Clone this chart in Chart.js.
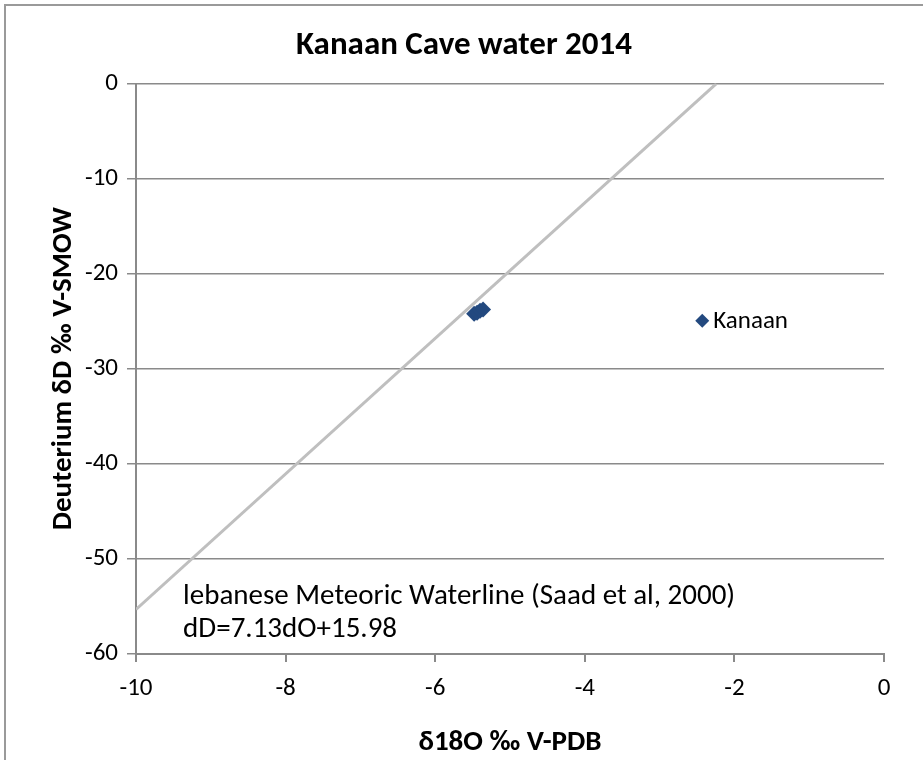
<!DOCTYPE html>
<html>
<head>
<meta charset="utf-8">
<script src="https://cdn.jsdelivr.net/npm/chart.js@4.4.1/dist/chart.umd.min.js"></script>
<style>
  html, body { margin: 0; padding: 0; background: #fff; }
  #wrap { position: relative; width: 923px; height: 760px; }
</style>
</head>
<body>
<div id="wrap"><canvas id="chart" width="923" height="760"></canvas></div>
<script>
// Kanaan samples (δ18O, δD)
const kanaanX = [-5.48, -5.44, -5.40, -5.36]
const kanaanY = [-24.2, -24.1, -23.9, -23.75]

// Lebanese meteoric waterline end points (dD = 7.13 dO + 15.98)
const lineX = [-10, -2.241]
const lineY = [-55.32, 0]

const xTicks = [-10, -8, -6, -4, -2, 0]
const yTicks = [0, -10, -20, -30, -40, -50, -60]

const seriesName = "Kanaan"
const lineNote = ["lebanese Meteoric Waterline (Saad et al, 2000)", "dD=7.13dO+15.98"]

const toPoints = (xs, ys) => xs.map((x, i) => ({ x: x, y: ys[i] }))

const font = "Calibri, Carlito, Lato, 'Open Sans', sans-serif"
const blue = "#23497f"
const grey = "#8a8a8a"

// outer frame, floating legend and the text note on the line
const extras = {
  id: "extras",
  beforeDraw(chart) {
    const c = chart.ctx
    c.save()
    c.fillStyle = "#fff"
    c.fillRect(0, 0, chart.width, chart.height)
    c.strokeStyle = "#9a9a9a"
    c.lineWidth = 2
    c.strokeRect(5, 5, chart.width + 20, chart.height + 20)
    c.restore()
  },
  afterDraw(chart) {
    const c = chart.ctx
    const xs = chart.scales.x
    const ys = chart.scales.y
    c.save()
    // legend
    const lx = xs.getPixelForValue(-2.43)
    const ly = ys.getPixelForValue(-24.95)
    c.fillStyle = blue
    c.beginPath()
    c.moveTo(lx, ly - 7)
    c.lineTo(lx + 7, ly)
    c.lineTo(lx, ly + 7)
    c.lineTo(lx - 7, ly)
    c.closePath()
    c.fill()
    c.fillStyle = "#000"
    c.font = "25px " + font
    c.textBaseline = "middle"
    c.fillText(seriesName, lx + 11, ly + 1)
    // note
    c.font = "29px " + font
    const nx = xs.getPixelForValue(-9.37)
    c.fillText(lineNote[0], nx, ys.getPixelForValue(-54.0))
    c.fillText(lineNote[1], nx, ys.getPixelForValue(-57.5))
    c.restore()
  }
}

new Chart(document.getElementById("chart"), {
  type: "scatter",
  data: {
    datasets: [
      {
        label: "waterline",
        type: "line",
        data: toPoints(lineX, lineY),
        borderColor: "#bfbfbf",
        borderWidth: 3,
        pointRadius: 0,
        fill: false,
        order: 2
      },
      {
        label: seriesName,
        data: toPoints(kanaanX, kanaanY),
        pointStyle: "rectRot",
        pointRadius: 8,
        pointHoverRadius: 8,
        backgroundColor: blue,
        borderColor: blue,
        borderWidth: 0,
        order: 1
      }
    ]
  },
  options: {
    responsive: false,
    animation: false,
    layout: { padding: { top: 12, left: 44, right: 39, bottom: 0 } },
    plugins: {
      legend: { display: false },
      tooltip: { enabled: false },
      title: {
        display: true,
        text: "Kanaan Cave water 2014",
        color: "#000",
        font: { family: font, size: 33, weight: "bold" },
        padding: { top: 14, bottom: 18 }
      }
    },
    scales: {
      x: {
        type: "linear",
        min: -10,
        max: 0,
        afterBuildTicks: (s) => { s.ticks = xTicks.map(v => ({ value: v })) },
        afterFit: (s) => { s.height = 106 },
        grid: {
          display: true,
          drawOnChartArea: false,
          drawTicks: true,
          tickLength: 8,
          color: grey,
          lineWidth: 2
        },
        border: { color: grey, width: 2 },
        ticks: { color: "#000", font: { family: font, size: 25 }, padding: 12 },
        title: {
          display: true,
          text: "δ18O ‰ V-PDB",
          color: "#000",
          font: { family: font, size: 29, weight: "bold" },
          padding: { top: 0, bottom: 0 }
        }
      },
      y: {
        type: "linear",
        min: -60,
        max: 0,
        afterBuildTicks: (s) => { s.ticks = yTicks.map(v => ({ value: v })) },
        afterFit: (s) => { s.width = 92 },
        grid: {
          color: grey,
          lineWidth: 1.5,
          tickLength: 9
        },
        border: { color: grey, width: 2 },
        ticks: { color: "#000", font: { family: font, size: 25 }, padding: 9 },
        title: {
          display: true,
          text: "Deuterium δD ‰ V-SMOW",
          color: "#000",
          font: { family: font, size: 29, weight: "bold" },
          padding: { top: 2, bottom: 0 }
        }
      }
    }
  },
  plugins: [extras]
})
</script>
</body>
</html>
